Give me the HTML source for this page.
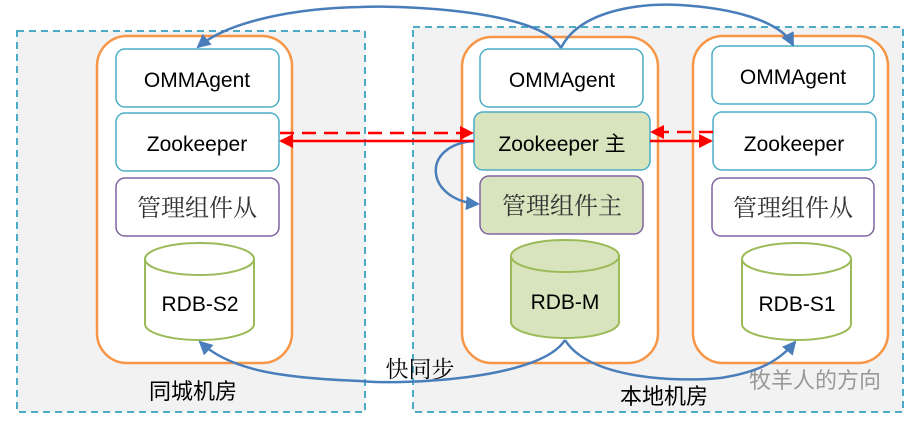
<!DOCTYPE html>
<html><head><meta charset="utf-8"><style>
body{margin:0;background:#fff}
svg text{font-family:"Liberation Sans","Noto Sans CJK SC",sans-serif}
svg text.s{font-family:"Liberation Serif","Noto Serif CJK SC",serif}
</style></head><body>
<svg width="914" height="419" viewBox="0 0 914 419" xmlns="http://www.w3.org/2000/svg">
<defs>
<marker id="b" markerWidth="14" markerHeight="14" refX="12" refY="7" orient="auto" markerUnits="userSpaceOnUse"><path d="M0,0 L14,7 L0,14 z" fill="#4a7ebb"/></marker>
<marker id="r" markerWidth="14" markerHeight="14" refX="12" refY="7" orient="auto" markerUnits="userSpaceOnUse"><path d="M0,0 L14,7 L0,14 z" fill="#ff0000"/></marker>
</defs>
<rect x="17" y="31" width="348" height="381" fill="#f2f2f2" stroke="#4bacc6" stroke-width="2" stroke-dasharray="7,5"/>
<rect x="413" y="27" width="490" height="385" fill="#f2f2f2" stroke="#4bacc6" stroke-width="2" stroke-dasharray="7,5"/>
<g stroke="#f79646" stroke-width="2.5" fill="#fff">
<rect x="97" y="36" width="195" height="327" rx="30"/>
<rect x="462" y="37" width="196" height="326" rx="30"/>
<rect x="693" y="36" width="195" height="327" rx="30"/>
</g>
<g stroke="#4bacc6" stroke-width="1.5" fill="#fff">
<rect x="116" y="49" width="163" height="58" rx="9"/>
<rect x="116" y="113" width="163" height="58" rx="9"/>
<rect x="480" y="49" width="163" height="58" rx="9"/>
<rect x="474" y="112" width="176" height="58" rx="9" fill="#d7e4bd"/>
<rect x="712" y="46" width="162" height="58" rx="9"/>
<rect x="713" y="112" width="163" height="58" rx="9"/>
</g>
<g stroke="#8064a2" stroke-width="1.5" fill="#fff">
<rect x="116" y="178" width="163" height="58" rx="9"/>
<rect x="480" y="176" width="163" height="58" rx="9" fill="#d7e4bd"/>
<rect x="712" y="178" width="162" height="58" rx="9"/>
</g>
<g stroke="#9bbb59" stroke-width="2" fill="#fff">
<path d="M145,259 L145,324 A54.5,16 0 0 0 254,324 L254,259"/><ellipse cx="199.5" cy="259" rx="54.5" ry="16"/>
<path d="M511,256 L511,322 A54,16 0 0 0 619,322 L619,256" fill="#d7e4bd"/><ellipse cx="565" cy="256" rx="54" ry="16" fill="#d7e4bd"/>
<path d="M742,259 L742,324 A54.5,16 0 0 0 851,324 L851,259"/><ellipse cx="796.5" cy="259" rx="54.5" ry="16"/>
</g>
<g font-size="21" text-anchor="middle" fill="#000">
<text x="197" y="87">OMMAgent</text>
<text x="197" y="151">Zookeeper</text>
<text class="s" x="197" y="216" font-size="24" fill="#333">管理组件从</text>
<text x="200" y="311">RDB-S2</text>
<text x="562" y="87">OMMAgent</text>
<text x="562" y="151">Zookeeper 主</text>
<text class="s" x="562" y="214" font-size="24" fill="#333">管理组件主</text>
<text x="565" y="309">RDB-M</text>
<text x="793" y="84">OMMAgent</text>
<text x="794" y="151">Zookeeper</text>
<text class="s" x="793" y="216" font-size="24" fill="#333">管理组件从</text>
<text x="797" y="311">RDB-S1</text>
<text x="193" y="399" font-size="22">同城机房</text>
<text x="664" y="404" font-size="22">本地机房</text>
<text class="s" x="420" y="377" font-size="23">快同步</text>
<text x="815" y="388" font-size="22" fill="#999">牧羊人的方向</text>
</g>
<g fill="none" stroke="#4a7ebb" stroke-width="2.5">
<path d="M561,48 C540,10 400,5 360,7 C300,8 230,20 198,47" marker-end="url(#b)"/>
<path d="M561,48 C580,10 640,3 680,5 C730,8 780,20 793,45" marker-end="url(#b)"/>
<path d="M474,141 C420,145 425,200 478,204" marker-end="url(#b)"/>
<path d="M565,340 C540,380 400,385 360,381 C280,378 230,370 200,342" marker-end="url(#b)"/>
<path d="M565,340 C590,380 680,382 720,378 C760,372 780,360 795,342" marker-end="url(#b)"/>
</g>
<g stroke="#ff0000" stroke-width="2.5" fill="none">
<path d="M280,133 L472,133" stroke-dasharray="14,8" marker-end="url(#r)"/>
<path d="M474,141 L281,141" marker-end="url(#r)"/>
<path d="M713,132 L652,132" stroke-dasharray="14,8" marker-end="url(#r)"/>
<path d="M650,141 L711,141" marker-end="url(#r)"/>
</g>
</svg>
</body></html>
